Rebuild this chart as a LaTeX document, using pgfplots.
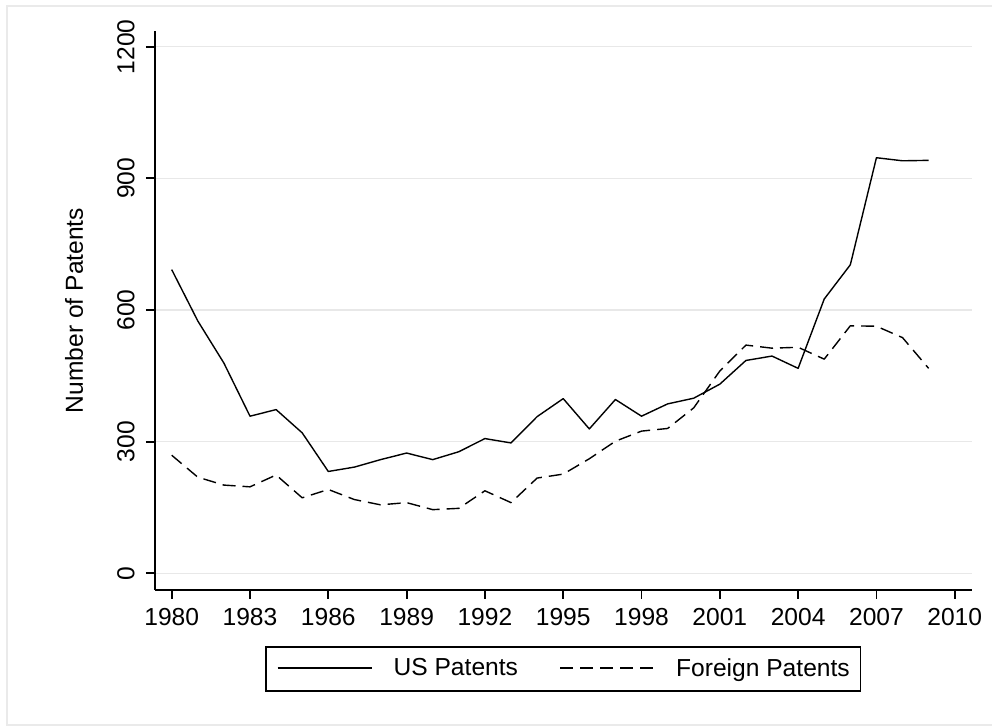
\documentclass[border=0pt]{standalone}
\usepackage{pgfplots}
\pgfplotsset{compat=1.18}
\usepackage{fontspec}
\setmainfont{Liberation Sans}
\definecolor{gridgray}{RGB}{232,232,232}
\definecolor{framegray}{RGB}{234,234,234}
\pgfplotstableread{
year us foreign
1980 692 269
1981 575 219
1982 479 201
1983 358 197
1984 373 224
1985 320 172
1986 232 191
1987 242 168
1988 259 156
1989 274 161
1990 259 145
1991 277 148
1992 307 188
1993 297 161
1994 357 217
1995 398 226
1996 329 261
1997 396 301
1998 358 324
1999 386 330
2000 399 377
2001 431 461
2002 485 520
2003 495 513
2004 467 515
2005 625 488
2006 703 564
2007 947 563
2008 940 537
2009 941 467
}\patents
\begin{document}
\fontsize{12.3pt}{14pt}\selectfont
\begin{tikzpicture}
\useasboundingbox (0,0) rectangle (496pt,363pt);
\fill[white] (0,0) rectangle (496pt,363pt);
\draw[framegray, line width=1.2pt] (3.5pt,0.6pt) rectangle (500pt,360pt);
\begin{axis}[
  at={(77.5pt,68pt)}, anchor=south west,
  width=408.35pt, height=279.5pt, scale only axis,
  xmin=1979.36, xmax=2010.65, ymin=-38.06, ymax=1235.8,
  axis x line*=bottom, axis y line*=left,
  axis line style={line width=0.9pt, -},
  xtick={1980,1983,...,2010}, ytick={0,300,...,1200},
  tick align=outside, major tick length=4.5pt,
  tick style={line width=0.9pt, black},
  ymajorgrids, major grid style={line width=0.75pt, gridgray},
  /pgf/number format/assume math mode=true,
  /pgf/number format/1000 sep={},
  ticklabel style={font=\fontsize{12.3pt}{14pt}\selectfont},
  yticklabel style={rotate=90, anchor=south, inner xsep=0pt, inner ysep=5.5pt},
  xticklabel style={anchor=north, inner xsep=0pt, inner ysep=4.5pt},
  ylabel={Number of Patents},
  ylabel style={at={(axis description cs:-0.0991,0.5)}, anchor=center, font=\fontsize{12.3pt}{14pt}\selectfont},
  legend columns=2,
  legend style={at={(axis description cs:0.5,-0.1413)}, anchor=center,
    draw=black, line width=0.8pt, inner xsep=5.35pt, inner ysep=5.7pt,
    font=\fontsize{12.3pt}{14pt}\selectfont,
    nodes={inner sep=0pt},
    column sep=10.65pt,
    /tikz/every even column/.append style={column sep=20.7pt}},
  legend image code/.code={\draw[#1, line width=0.7pt] (0pt,0.4pt) -- (47pt,0.4pt);},
]
\addplot[black, line width=0.7pt, line join=round] table[x=year, y=us] {\patents};
\addlegendentry{US Patents}
\addplot[black, line width=0.7pt, line join=round, dash pattern=on 6.5pt off 3.5pt] table[x=year, y=foreign] {\patents};
\addlegendentry{Foreign Patents\hspace{4.4pt}}
\end{axis}
\end{tikzpicture}
\end{document}
